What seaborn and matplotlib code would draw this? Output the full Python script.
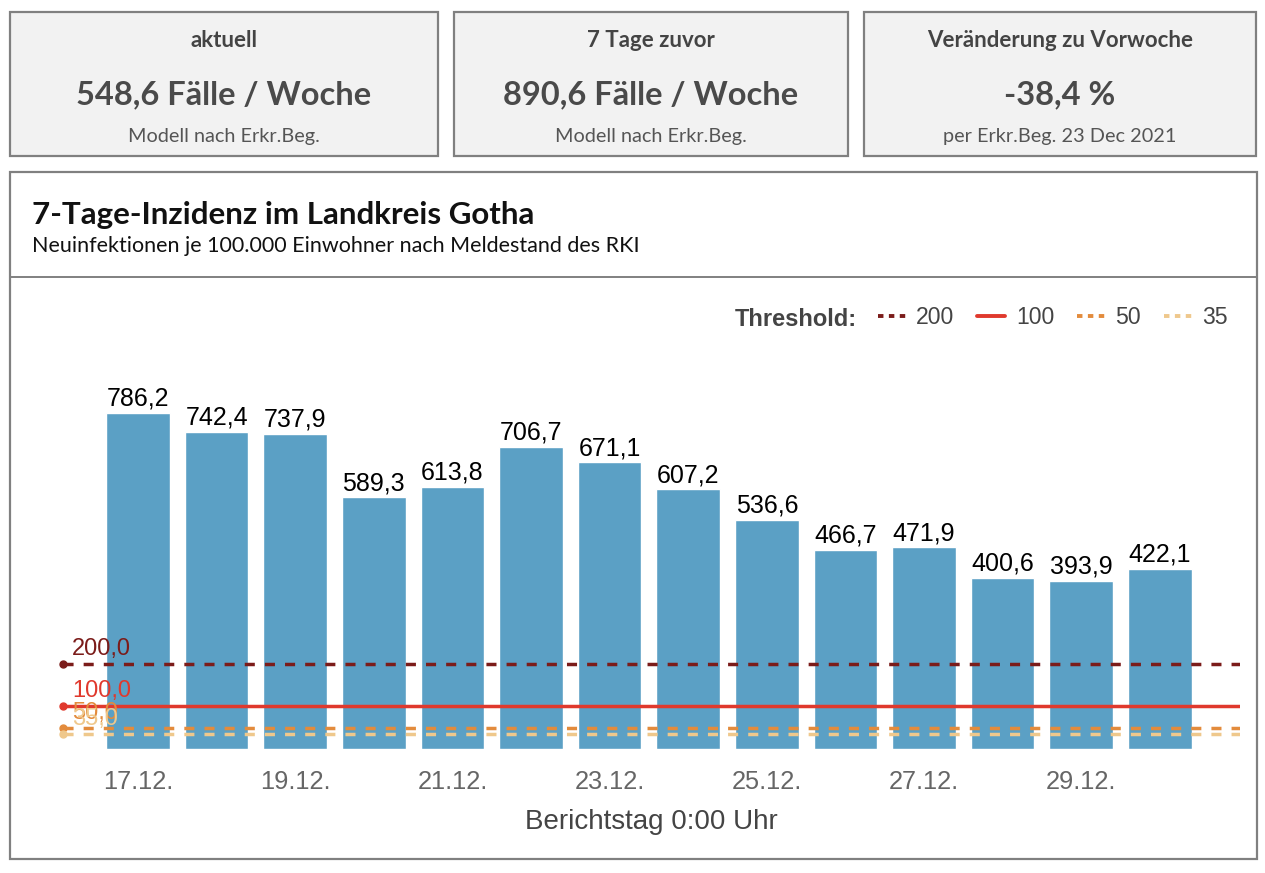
import matplotlib
matplotlib.use("Agg")
import matplotlib.pyplot as plt
from matplotlib.patches import Rectangle
from matplotlib.lines import Line2D
import seaborn as sns
import pandas as pd

# Data
dates = ["17.12.", "18.12.", "19.12.", "20.12.", "21.12.", "22.12.", "23.12.",
         "24.12.", "25.12.", "26.12.", "27.12.", "28.12.", "29.12.", "30.12."]
incidence = [786.2, 742.4, 737.9, 589.3, 613.8, 706.7, 671.1,
             607.2, 536.6, 466.7, 471.9, 400.6, 393.9, 422.1]

thresholds = [200, 100, 50, 35]
threshold_colors = ["#7b1c1a", "#e0392d", "#e38b3c", "#efc88c"]
threshold_dashed = [True, False, True, True]

card_titles = ["aktuell", "7 Tage zuvor", "Veränderung zu Vorwoche"]
card_values = ["548,6 Fälle / Woche", "890,6 Fälle / Woche", "-38,4 %"]
card_notes = ["Modell nach Erkr.Beg.", "Modell nach Erkr.Beg.", "per Erkr.Beg. 23 Dec 2021"]

title = "7-Tage-Inzidenz im Landkreis Gotha"
subtitle = "Neuinfektionen je 100.000 Einwohner nach Meldestand des RKI"
xlabel = "Berichtstag 0:00 Uhr"

df = pd.DataFrame({"datum": dates, "inzidenz": incidence})

sns.set_style("white")
plt.rcParams["font.family"] = ["Liberation Sans", "DejaVu Sans"]

W, H = 1265, 873
fig = plt.figure(figsize=(W / 100, H / 100), dpi=100)


def fx(x):
    return x / W


def fy(y):
    return 1 - y / H


# ---------- cards ----------
card_boxes = [(10, 438), (454, 848), (864, 1256)]
for (x0, x1), t, v, n in zip(card_boxes, card_titles, card_values, card_notes):
    fig.patches.append(Rectangle((fx(x0), fy(156)), fx(x1) - fx(x0), (156 - 12) / H,
                                 transform=fig.transFigure, facecolor="#f2f2f2",
                                 edgecolor="#808080", lw=1.6, zorder=-2))
    cx = fx((x0 + x1) / 2)
    fig.text(cx, fy(47), t, ha="center", va="baseline", family="Lato",
             weight="bold", size=16, color="#444444")
    fig.text(cx, fy(104), v, ha="center", va="baseline", family="Lato",
             weight="bold", size=23.5, color="#4a4a4a")
    fig.text(cx, fy(142), n, ha="center", va="baseline", family="Lato",
             size=14.3, color="#555555")

# ---------- chart panel ----------
fig.patches.append(Rectangle((fx(10), fy(859)), fx(1257) - fx(10), (859 - 172) / H,
                             transform=fig.transFigure, facecolor="white",
                             edgecolor="#808080", lw=1.6, zorder=-2))
fig.add_artist(Line2D([fx(10), fx(1257)], [fy(277), fy(277)],
                      transform=fig.transFigure, color="#808080", lw=1.4))
fig.text(fx(32), fy(224), title, ha="left", va="baseline", family="Lato",
         weight="bold", size=22.5, color="#111111")
fig.text(fx(32), fy(252), subtitle, ha="left", va="baseline", family="Lato",
         size=15.5, color="#111111")

ax = fig.add_axes([fx(63), fy(749), fx(1240) - fx(63), (749 - 300) / H])
ax.patch.set_alpha(0)
sns.barplot(data=df, x="datum", y="inzidenz", color="#5ba0c5", saturation=1,
            width=0.81, ax=ax, zorder=1)
ax.set_xlim(-0.954, 14.02)
ax.set_ylim(0, (749 - 300) / 0.4274)

for i, val in enumerate(incidence):
    ax.annotate(f"{val:.1f}".replace(".", ","), (i, val), xytext=(0, 7),
                textcoords="offset pixels", ha="center", va="baseline",
                size=18, color="black")

for t, c, dashed in zip(thresholds, threshold_colors, threshold_dashed):
    ls = (0, (2.9, 2.9)) if dashed else "-"
    ax.axhline(t, color=c, lw=2.5, linestyle=ls, zorder=3)
    ax.plot(0, t, "o", color=c, ms=5, transform=ax.get_yaxis_transform(),
            clip_on=False, zorder=4)
    ax.annotate(f"{t:.1f}".replace(".", ","), (0, t), xycoords=ax.get_yaxis_transform(),
                xytext=(9, 9), textcoords="offset pixels", ha="left", va="baseline",
                size=17, color=c, zorder=5)

ax.set_xticks(range(0, len(dates), 2))
ax.set_xticklabels(dates[::2])
ax.tick_params(axis="x", length=0, pad=15, labelsize=18.3, labelcolor="#666666")
ax.set_yticks([])
ax.set_ylabel("")
ax.set_xlabel(xlabel, size=20, color="#444444")
ax.xaxis.set_label_coords(0.5, (749 - 822) / (749 - 300))
ax.xaxis.label.set_va("center")
sns.despine(ax=ax, left=True, bottom=True)

# ---------- legend ----------
handles = []
for c, dashed in zip(threshold_colors, threshold_dashed):
    ls = (0, (1.4, 1.4)) if dashed else "-"
    handles.append(Line2D([], [], color=c, lw=2.8, linestyle=ls))
leg = ax.legend(handles, [str(t) for t in thresholds], ncol=4, loc="center right",
                bbox_to_anchor=(fx(1228), fy(318)), bbox_transform=fig.transFigure,
                frameon=False, fontsize=16.6, handlelength=1.22, handletextpad=0.46,
                columnspacing=0.98, borderpad=0, borderaxespad=0)
for txt in leg.get_texts():
    txt.set_color("#444444")
fig.text(fx(857), fy(326), "Threshold:", ha="right", va="baseline", weight="bold",
         size=17, color="#444444")

fig.savefig("out.png", dpi=100)
